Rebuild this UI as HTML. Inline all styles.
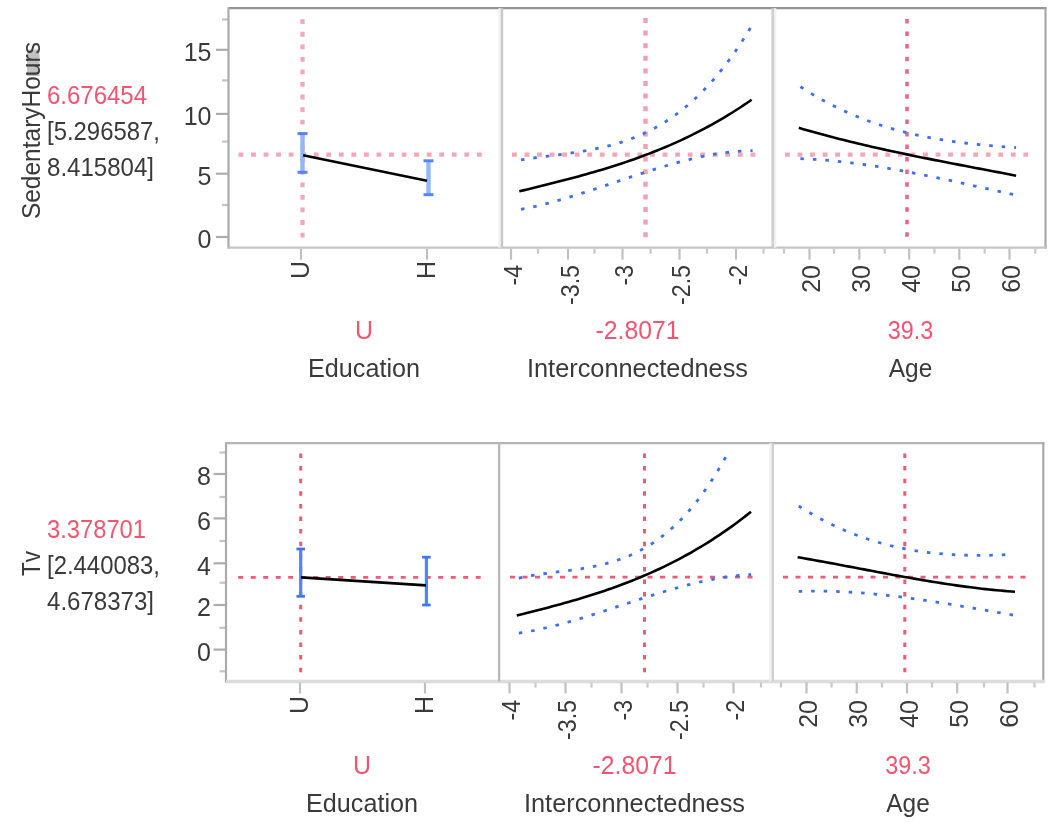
<!DOCTYPE html>
<html><head><meta charset="utf-8"><style>
html,body{margin:0;padding:0;background:#fff;}
svg{display:block;filter:blur(0.45px);}
text{font-family:"Liberation Sans",sans-serif;}
html,body{overflow:hidden;}
</style></head><body>
<svg width="1050" height="825" viewBox="0 0 1050 825" >
<rect width="1050" height="825" fill="#fff"/>
<rect x="27" y="49.5" width="12.5" height="26.5" fill="#c2c2c2"/>
<text transform="translate(40 130.6) rotate(-90)" x="0" y="0" font-size="25" fill="#3a3a3a" text-anchor="middle" textLength="177" lengthAdjust="spacingAndGlyphs">SedentaryHours</text>
<text x="47" y="103.5" font-size="25" fill="#f25570" text-anchor="start" textLength="100" lengthAdjust="spacingAndGlyphs" >6.676454</text>
<text x="47" y="139.7" font-size="25" fill="#3a3a3a" text-anchor="start" textLength="113" lengthAdjust="spacingAndGlyphs" >[5.296587,</text>
<text x="47" y="175.6" font-size="25" fill="#3a3a3a" text-anchor="start" textLength="107" lengthAdjust="spacingAndGlyphs" >8.415804]</text>
<line x1="216.0" y1="237" x2="228.5" y2="237" stroke="#adadad" stroke-width="2.2" />
<text x="211.5" y="248.3" font-size="25" fill="#3a3a3a" text-anchor="end" >0</text>
<line x1="216.0" y1="173.7" x2="228.5" y2="173.7" stroke="#adadad" stroke-width="2.2" />
<text x="211.5" y="185.0" font-size="25" fill="#3a3a3a" text-anchor="end" >5</text>
<line x1="216.0" y1="113.9" x2="228.5" y2="113.9" stroke="#adadad" stroke-width="2.2" />
<text x="211.5" y="125.2" font-size="25" fill="#3a3a3a" text-anchor="end" >10</text>
<line x1="216.0" y1="49.8" x2="228.5" y2="49.8" stroke="#adadad" stroke-width="2.2" />
<text x="211.5" y="61.099999999999994" font-size="25" fill="#3a3a3a" text-anchor="end" >15</text>
<line x1="222.0" y1="205" x2="228.5" y2="205" stroke="#c4c4c4" stroke-width="2.2" />
<line x1="222.0" y1="141.6" x2="228.5" y2="141.6" stroke="#c4c4c4" stroke-width="2.2" />
<line x1="222.0" y1="80.4" x2="228.5" y2="80.4" stroke="#c4c4c4" stroke-width="2.2" />
<line x1="222.0" y1="19.5" x2="228.5" y2="19.5" stroke="#c4c4c4" stroke-width="2.2" />
<line x1="228.5" y1="8.2" x2="1046.5" y2="8.2" stroke="#959595" stroke-width="2.2" />
<line x1="228.5" y1="7.199999999999999" x2="228.5" y2="248.7" stroke="#ababab" stroke-width="2.2" />
<line x1="1045.5" y1="7.199999999999999" x2="1045.5" y2="248.7" stroke="#a8a8a8" stroke-width="2.2" />
<line x1="228.5" y1="247.7" x2="1046.5" y2="247.7" stroke="#c4c4c4" stroke-width="2.2" />
<rect x="498.4" y="8.2" width="2.4" height="239.5" fill="#f0f0f0"/>
<line x1="502" y1="8.2" x2="502" y2="247.7" stroke="#c8c8c8" stroke-width="2.4" />
<rect x="773.9000000000001" y="8.2" width="2.4" height="239.5" fill="#f0f0f0"/>
<line x1="772.7" y1="8.2" x2="772.7" y2="247.7" stroke="#cbcbcb" stroke-width="2.4" />
<line x1="301" y1="248.7" x2="301" y2="259.7" stroke="#c0c0c0" stroke-width="2.2" />
<line x1="427" y1="248.7" x2="427" y2="259.7" stroke="#c0c0c0" stroke-width="2.2" />
<line x1="511" y1="248.7" x2="511" y2="259.7" stroke="#c0c0c0" stroke-width="2.2" />
<line x1="568" y1="248.7" x2="568" y2="259.7" stroke="#c0c0c0" stroke-width="2.2" />
<line x1="622.5" y1="248.7" x2="622.5" y2="259.7" stroke="#c0c0c0" stroke-width="2.2" />
<line x1="679.5" y1="248.7" x2="679.5" y2="259.7" stroke="#c0c0c0" stroke-width="2.2" />
<line x1="736" y1="248.7" x2="736" y2="259.7" stroke="#c0c0c0" stroke-width="2.2" />
<line x1="809.5" y1="248.7" x2="809.5" y2="259.7" stroke="#c0c0c0" stroke-width="2.2" />
<line x1="859.3" y1="248.7" x2="859.3" y2="259.7" stroke="#c0c0c0" stroke-width="2.2" />
<line x1="909.2" y1="248.7" x2="909.2" y2="259.7" stroke="#c0c0c0" stroke-width="2.2" />
<line x1="959.3" y1="248.7" x2="959.3" y2="259.7" stroke="#c0c0c0" stroke-width="2.2" />
<line x1="1009.5" y1="248.7" x2="1009.5" y2="259.7" stroke="#c0c0c0" stroke-width="2.2" />
<line x1="538" y1="248.7" x2="538" y2="253.7" stroke="#c8c8c8" stroke-width="2.2" />
<line x1="594.5" y1="248.7" x2="594.5" y2="253.7" stroke="#c8c8c8" stroke-width="2.2" />
<line x1="650.6" y1="248.7" x2="650.6" y2="253.7" stroke="#c8c8c8" stroke-width="2.2" />
<line x1="707" y1="248.7" x2="707" y2="253.7" stroke="#c8c8c8" stroke-width="2.2" />
<line x1="763.5" y1="248.7" x2="763.5" y2="253.7" stroke="#c8c8c8" stroke-width="2.2" />
<line x1="784" y1="248.7" x2="784" y2="253.7" stroke="#c8c8c8" stroke-width="2.2" />
<line x1="834" y1="248.7" x2="834" y2="253.7" stroke="#c8c8c8" stroke-width="2.2" />
<line x1="884.7" y1="248.7" x2="884.7" y2="253.7" stroke="#c8c8c8" stroke-width="2.2" />
<line x1="934.5" y1="248.7" x2="934.5" y2="253.7" stroke="#c8c8c8" stroke-width="2.2" />
<line x1="984.7" y1="248.7" x2="984.7" y2="253.7" stroke="#c8c8c8" stroke-width="2.2" />
<line x1="1035.3" y1="248.7" x2="1035.3" y2="253.7" stroke="#c8c8c8" stroke-width="2.2" />
<text transform="translate(309.0 261) rotate(-90)" x="0" y="0" font-size="25" fill="#3a3a3a" text-anchor="end">U</text>
<text transform="translate(435.0 261) rotate(-90)" x="0" y="0" font-size="25" fill="#3a3a3a" text-anchor="end">H</text>
<text transform="translate(521.5 265) rotate(-90)" x="0" y="0" font-size="25" fill="#3a3a3a" text-anchor="end" textLength="20.5" lengthAdjust="spacingAndGlyphs">-4</text>
<text transform="translate(578.5 265) rotate(-90)" x="0" y="0" font-size="25" fill="#3a3a3a" text-anchor="end" textLength="40" lengthAdjust="spacingAndGlyphs">-3.5</text>
<text transform="translate(633.0 265) rotate(-90)" x="0" y="0" font-size="25" fill="#3a3a3a" text-anchor="end" textLength="20.5" lengthAdjust="spacingAndGlyphs">-3</text>
<text transform="translate(690.0 265) rotate(-90)" x="0" y="0" font-size="25" fill="#3a3a3a" text-anchor="end" textLength="40" lengthAdjust="spacingAndGlyphs">-2.5</text>
<text transform="translate(746.5 265) rotate(-90)" x="0" y="0" font-size="25" fill="#3a3a3a" text-anchor="end" textLength="20.5" lengthAdjust="spacingAndGlyphs">-2</text>
<text transform="translate(820.0 265) rotate(-90)" x="0" y="0" font-size="25" fill="#3a3a3a" text-anchor="end">20</text>
<text transform="translate(869.8 265) rotate(-90)" x="0" y="0" font-size="25" fill="#3a3a3a" text-anchor="end">30</text>
<text transform="translate(919.7 265) rotate(-90)" x="0" y="0" font-size="25" fill="#3a3a3a" text-anchor="end">40</text>
<text transform="translate(969.8 265) rotate(-90)" x="0" y="0" font-size="25" fill="#3a3a3a" text-anchor="end">50</text>
<text transform="translate(1020.0 265) rotate(-90)" x="0" y="0" font-size="25" fill="#3a3a3a" text-anchor="end">60</text>
<text x="364" y="338.5" font-size="25" fill="#f25570" text-anchor="middle" >U</text>
<text x="364" y="377" font-size="25" fill="#3a3a3a" text-anchor="middle" textLength="112" lengthAdjust="spacingAndGlyphs" >Education</text>
<text x="637.5" y="338.5" font-size="25" fill="#f25570" text-anchor="middle" textLength="84" lengthAdjust="spacingAndGlyphs" >-2.8071</text>
<text x="637.5" y="377" font-size="25" fill="#3a3a3a" text-anchor="middle" textLength="221" lengthAdjust="spacingAndGlyphs" >Interconnectedness</text>
<text x="910.5" y="338.5" font-size="25" fill="#f25570" text-anchor="middle" textLength="45.5" lengthAdjust="spacingAndGlyphs" >39.3</text>
<text x="910.5" y="377" font-size="25" fill="#3a3a3a" text-anchor="middle" textLength="43.5" lengthAdjust="spacingAndGlyphs" >Age</text>
<line x1="302.5" y1="19.3" x2="302.5" y2="238" stroke="#f6a6b6" stroke-width="4.2" stroke-dasharray="4.8 7.75"/><line x1="238.5" y1="154.7" x2="487" y2="154.7" stroke="#f6a6b6" stroke-width="4.2" stroke-dasharray="4.8 7.75"/><line x1="302.5" y1="133.6" x2="302.5" y2="172.3" stroke="#93b7f9" stroke-width="4.4"/><line x1="297.5" y1="133.6" x2="307.5" y2="133.6" stroke="#5585f5" stroke-width="3"/><line x1="297.5" y1="172.3" x2="307.5" y2="172.3" stroke="#5585f5" stroke-width="3"/><line x1="428.5" y1="160.8" x2="428.5" y2="194.7" stroke="#93b7f9" stroke-width="4.4"/><line x1="423.5" y1="160.8" x2="433.5" y2="160.8" stroke="#5585f5" stroke-width="3"/><line x1="423.5" y1="194.7" x2="433.5" y2="194.7" stroke="#5585f5" stroke-width="3"/><line x1="303" y1="155.3" x2="427" y2="180.7" stroke="#000" stroke-width="2.6"/><line x1="512" y1="154.7" x2="758" y2="154.7" stroke="#f6a6b6" stroke-width="4.2" stroke-dasharray="4.8 7.75"/><line x1="645.5" y1="18" x2="645.5" y2="238" stroke="#f5a0b2" stroke-width="4.5" stroke-dasharray="5 7.6"/><path d="M521.00,159.85 L524.90,159.24 L528.80,158.66 L532.71,158.10 L536.61,157.57 L540.51,157.05 L544.41,156.54 L548.31,156.04 L552.21,155.55 L556.12,155.05 L560.02,154.55 L563.92,154.03 L567.82,153.50 L571.72,152.95 L575.62,152.37 L579.53,151.77 L583.43,151.13 L587.33,150.45 L591.23,149.74 L595.13,148.97 L599.03,148.15 L602.94,147.27 L606.84,146.34 L610.74,145.33 L614.64,144.26 L618.54,143.11 L622.44,141.88 L626.35,140.57 L630.25,139.17 L634.15,137.67 L638.05,136.08 L641.95,134.38 L645.85,132.58 L649.76,130.67 L653.66,128.64 L657.56,126.48 L661.46,124.21 L665.36,121.80 L669.26,119.26 L673.17,116.58 L677.07,113.75 L680.97,110.78 L684.87,107.65 L688.77,104.37 L692.67,100.92 L696.58,97.31 L700.48,93.52 L704.38,89.56 L708.28,85.42 L712.18,81.09 L716.08,76.58 L719.99,71.87 L723.89,66.96 L727.79,61.84 L731.69,56.52 L735.59,50.99 L739.49,45.24 L743.40,39.27 L747.30,33.07 L751.20,26.64" fill="none" stroke="#3a6ff2" stroke-width="2.8" stroke-dasharray="3.5 9"/><path d="M521.00,209.35 L524.93,208.59 L528.85,207.78 L532.78,206.93 L536.70,206.03 L540.63,205.09 L544.55,204.12 L548.48,203.10 L552.40,202.06 L556.33,200.97 L560.25,199.86 L564.18,198.72 L568.11,197.56 L572.03,196.36 L575.96,195.15 L579.88,193.92 L583.81,192.66 L587.73,191.39 L591.66,190.11 L595.58,188.81 L599.51,187.51 L603.43,186.19 L607.36,184.87 L611.28,183.55 L615.21,182.23 L619.14,180.90 L623.06,179.58 L626.99,178.26 L630.91,176.94 L634.84,175.64 L638.76,174.34 L642.69,173.06 L646.61,171.80 L650.54,170.55 L654.46,169.31 L658.39,168.10 L662.32,166.91 L666.24,165.75 L670.17,164.61 L674.09,163.51 L678.02,162.43 L681.94,161.39 L685.87,160.38 L689.79,159.41 L693.72,158.47 L697.64,157.58 L701.57,156.74 L705.49,155.93 L709.42,155.18 L713.35,154.47 L717.27,153.82 L721.20,153.22 L725.12,152.68 L729.05,152.19 L732.97,151.76 L736.90,151.40 L740.82,151.10 L744.75,150.87 L748.67,150.70 L752.60,150.60" fill="none" stroke="#3a6ff2" stroke-width="2.8" stroke-dasharray="3.5 9"/><path d="M519.30,191.32 L523.24,190.37 L527.17,189.41 L531.11,188.45 L535.05,187.48 L538.99,186.51 L542.92,185.54 L546.86,184.56 L550.80,183.57 L554.74,182.58 L558.67,181.58 L562.61,180.56 L566.55,179.54 L570.48,178.50 L574.42,177.45 L578.36,176.38 L582.30,175.30 L586.23,174.21 L590.17,173.09 L594.11,171.96 L598.05,170.81 L601.98,169.64 L605.92,168.44 L609.86,167.23 L613.79,165.99 L617.73,164.72 L621.67,163.43 L625.61,162.11 L629.54,160.77 L633.48,159.40 L637.42,157.99 L641.36,156.56 L645.29,155.09 L649.23,153.60 L653.17,152.06 L657.11,150.50 L661.04,148.90 L664.98,147.26 L668.92,145.58 L672.85,143.86 L676.79,142.11 L680.73,140.31 L684.67,138.47 L688.60,136.59 L692.54,134.66 L696.48,132.69 L700.42,130.67 L704.35,128.60 L708.29,126.49 L712.23,124.33 L716.16,122.11 L720.10,119.85 L724.04,117.53 L727.98,115.16 L731.91,112.74 L735.85,110.26 L739.79,107.72 L743.73,105.13 L747.66,102.48 L751.60,99.76" fill="none" stroke="#000" stroke-width="2.6"/><line x1="785" y1="154.7" x2="1028" y2="154.7" stroke="#f6a6b6" stroke-width="4.2" stroke-dasharray="4.8 7.75"/><line x1="907" y1="19" x2="907" y2="238" stroke="#f06680" stroke-width="3.6" stroke-dasharray="4.5 8.05"/><path d="M800.40,86.76 L804.06,89.11 L807.71,91.41 L811.37,93.64 L815.02,95.80 L818.68,97.91 L822.34,99.95 L825.99,101.94 L829.65,103.86 L833.30,105.73 L836.96,107.55 L840.62,109.30 L844.27,111.01 L847.93,112.65 L851.58,114.25 L855.24,115.80 L858.89,117.29 L862.55,118.74 L866.21,120.13 L869.86,121.48 L873.52,122.78 L877.17,124.04 L880.83,125.25 L884.49,126.41 L888.14,127.54 L891.80,128.62 L895.45,129.66 L899.11,130.67 L902.77,131.63 L906.42,132.55 L910.08,133.44 L913.73,134.29 L917.39,135.11 L921.05,135.90 L924.70,136.65 L928.36,137.36 L932.01,138.05 L935.67,138.71 L939.33,139.34 L942.98,139.94 L946.64,140.51 L950.29,141.06 L953.95,141.58 L957.61,142.08 L961.26,142.55 L964.92,143.00 L968.57,143.43 L972.23,143.84 L975.88,144.24 L979.54,144.61 L983.20,144.96 L986.85,145.30 L990.51,145.63 L994.16,145.94 L997.82,146.23 L1001.48,146.52 L1005.13,146.79 L1008.79,147.05 L1012.44,147.30 L1016.10,147.55" fill="none" stroke="#3a6ff2" stroke-width="2.8" stroke-dasharray="3.5 9"/><path d="M800.40,158.72 L804.02,158.85 L807.63,159.02 L811.25,159.20 L814.86,159.42 L818.48,159.65 L822.09,159.92 L825.71,160.20 L829.32,160.51 L832.94,160.84 L836.55,161.20 L840.17,161.57 L843.78,161.97 L847.40,162.38 L851.01,162.82 L854.63,163.28 L858.24,163.75 L861.86,164.24 L865.47,164.76 L869.09,165.28 L872.71,165.83 L876.32,166.39 L879.94,166.97 L883.55,167.56 L887.17,168.17 L890.78,168.79 L894.40,169.42 L898.01,170.07 L901.63,170.73 L905.24,171.41 L908.86,172.09 L912.47,172.79 L916.09,173.49 L919.70,174.21 L923.32,174.93 L926.93,175.67 L930.55,176.41 L934.16,177.16 L937.78,177.92 L941.39,178.68 L945.01,179.45 L948.63,180.23 L952.24,181.01 L955.86,181.79 L959.47,182.58 L963.09,183.38 L966.70,184.18 L970.32,184.97 L973.93,185.78 L977.55,186.58 L981.16,187.38 L984.78,188.19 L988.39,188.99 L992.01,189.80 L995.62,190.60 L999.24,191.40 L1002.85,192.20 L1006.47,192.99 L1010.08,193.79 L1013.70,194.57" fill="none" stroke="#3a6ff2" stroke-width="2.8" stroke-dasharray="3.5 9"/><path d="M798.80,127.83 L802.48,128.91 L806.17,129.97 L809.85,131.02 L813.53,132.06 L817.22,133.08 L820.90,134.09 L824.58,135.08 L828.26,136.06 L831.95,137.03 L835.63,137.98 L839.31,138.92 L843.00,139.85 L846.68,140.77 L850.36,141.68 L854.05,142.58 L857.73,143.46 L861.41,144.34 L865.09,145.20 L868.78,146.05 L872.46,146.90 L876.14,147.74 L879.83,148.56 L883.51,149.38 L887.19,150.19 L890.88,150.99 L894.56,151.79 L898.24,152.57 L901.93,153.35 L905.61,154.13 L909.29,154.89 L912.97,155.65 L916.66,156.41 L920.34,157.16 L924.02,157.90 L927.71,158.64 L931.39,159.37 L935.07,160.10 L938.76,160.83 L942.44,161.55 L946.12,162.27 L949.81,162.98 L953.49,163.69 L957.17,164.40 L960.85,165.11 L964.54,165.82 L968.22,166.52 L971.90,167.22 L975.59,167.92 L979.27,168.63 L982.95,169.33 L986.64,170.03 L990.32,170.73 L994.00,171.43 L997.68,172.13 L1001.37,172.83 L1005.05,173.54 L1008.73,174.25 L1012.42,174.95 L1016.10,175.67" fill="none" stroke="#000" stroke-width="2.6"/>
<text transform="translate(39.5 563.5) rotate(-90)" x="0" y="0" font-size="25" fill="#3a3a3a" text-anchor="middle" textLength="25" lengthAdjust="spacingAndGlyphs">Tv</text>
<text x="47" y="538" font-size="25" fill="#f25570" text-anchor="start" textLength="99" lengthAdjust="spacingAndGlyphs" >3.378701</text>
<text x="47" y="574.2" font-size="25" fill="#3a3a3a" text-anchor="start" textLength="113" lengthAdjust="spacingAndGlyphs" >[2.440083,</text>
<text x="47" y="610.1" font-size="25" fill="#3a3a3a" text-anchor="start" textLength="107" lengthAdjust="spacingAndGlyphs" >4.678373]</text>
<line x1="213.5" y1="649.6" x2="226" y2="649.6" stroke="#adadad" stroke-width="2.2" />
<text x="211" y="660.9" font-size="25" fill="#3a3a3a" text-anchor="end" >0</text>
<line x1="213.5" y1="605" x2="226" y2="605" stroke="#adadad" stroke-width="2.2" />
<text x="211" y="616.3" font-size="25" fill="#3a3a3a" text-anchor="end" >2</text>
<line x1="213.5" y1="563.3" x2="226" y2="563.3" stroke="#adadad" stroke-width="2.2" />
<text x="211" y="574.5999999999999" font-size="25" fill="#3a3a3a" text-anchor="end" >4</text>
<line x1="213.5" y1="518.4" x2="226" y2="518.4" stroke="#adadad" stroke-width="2.2" />
<text x="211" y="529.6999999999999" font-size="25" fill="#3a3a3a" text-anchor="end" >6</text>
<line x1="213.5" y1="474" x2="226" y2="474" stroke="#adadad" stroke-width="2.2" />
<text x="211" y="485.3" font-size="25" fill="#3a3a3a" text-anchor="end" >8</text>
<line x1="219.5" y1="671.3" x2="226" y2="671.3" stroke="#c4c4c4" stroke-width="2.2" />
<line x1="219.5" y1="627.8" x2="226" y2="627.8" stroke="#c4c4c4" stroke-width="2.2" />
<line x1="219.5" y1="582.7" x2="226" y2="582.7" stroke="#c4c4c4" stroke-width="2.2" />
<line x1="219.5" y1="541" x2="226" y2="541" stroke="#c4c4c4" stroke-width="2.2" />
<line x1="219.5" y1="497" x2="226" y2="497" stroke="#c4c4c4" stroke-width="2.2" />
<line x1="219.5" y1="452.5" x2="226" y2="452.5" stroke="#c4c4c4" stroke-width="2.2" />
<line x1="226" y1="443.2" x2="1044.3" y2="443.2" stroke="#b5b5b5" stroke-width="2.2" />
<line x1="226" y1="442.2" x2="226" y2="682.5" stroke="#ababab" stroke-width="2.2" />
<line x1="1043.3" y1="442.2" x2="1043.3" y2="682.5" stroke="#a8a8a8" stroke-width="2.2" />
<line x1="226" y1="681.5" x2="1044.3" y2="681.5" stroke="#dcdcdc" stroke-width="3.6" />
<line x1="499.1" y1="443.2" x2="499.1" y2="681.5" stroke="#b8b8b8" stroke-width="2.4" />
<rect x="769.1999999999999" y="443.2" width="2.4" height="238.3" fill="#f0f0f0"/>
<line x1="772.8" y1="443.2" x2="772.8" y2="681.5" stroke="#d0d0d0" stroke-width="2.4" />
<line x1="300" y1="682.5" x2="300" y2="693.5" stroke="#c0c0c0" stroke-width="2.2" />
<line x1="425" y1="682.5" x2="425" y2="693.5" stroke="#c0c0c0" stroke-width="2.2" />
<line x1="509.5" y1="682.5" x2="509.5" y2="693.5" stroke="#c0c0c0" stroke-width="2.2" />
<line x1="565.5" y1="682.5" x2="565.5" y2="693.5" stroke="#c0c0c0" stroke-width="2.2" />
<line x1="621.5" y1="682.5" x2="621.5" y2="693.5" stroke="#c0c0c0" stroke-width="2.2" />
<line x1="677.5" y1="682.5" x2="677.5" y2="693.5" stroke="#c0c0c0" stroke-width="2.2" />
<line x1="733.5" y1="682.5" x2="733.5" y2="693.5" stroke="#c0c0c0" stroke-width="2.2" />
<line x1="806.5" y1="682.5" x2="806.5" y2="693.5" stroke="#c0c0c0" stroke-width="2.2" />
<line x1="856.75" y1="682.5" x2="856.75" y2="693.5" stroke="#c0c0c0" stroke-width="2.2" />
<line x1="907" y1="682.5" x2="907" y2="693.5" stroke="#c0c0c0" stroke-width="2.2" />
<line x1="957.2" y1="682.5" x2="957.2" y2="693.5" stroke="#c0c0c0" stroke-width="2.2" />
<line x1="1007.5" y1="682.5" x2="1007.5" y2="693.5" stroke="#c0c0c0" stroke-width="2.2" />
<line x1="535.5" y1="682.5" x2="535.5" y2="687.5" stroke="#c8c8c8" stroke-width="2.2" />
<line x1="591.5" y1="682.5" x2="591.5" y2="687.5" stroke="#c8c8c8" stroke-width="2.2" />
<line x1="647.5" y1="682.5" x2="647.5" y2="687.5" stroke="#c8c8c8" stroke-width="2.2" />
<line x1="703.5" y1="682.5" x2="703.5" y2="687.5" stroke="#c8c8c8" stroke-width="2.2" />
<line x1="761" y1="682.5" x2="761" y2="687.5" stroke="#c8c8c8" stroke-width="2.2" />
<line x1="781" y1="682.5" x2="781" y2="687.5" stroke="#c8c8c8" stroke-width="2.2" />
<line x1="831.6" y1="682.5" x2="831.6" y2="687.5" stroke="#c8c8c8" stroke-width="2.2" />
<line x1="882" y1="682.5" x2="882" y2="687.5" stroke="#c8c8c8" stroke-width="2.2" />
<line x1="932" y1="682.5" x2="932" y2="687.5" stroke="#c8c8c8" stroke-width="2.2" />
<line x1="984" y1="682.5" x2="984" y2="687.5" stroke="#c8c8c8" stroke-width="2.2" />
<line x1="1034.5" y1="682.5" x2="1034.5" y2="687.5" stroke="#c8c8c8" stroke-width="2.2" />
<text transform="translate(308.0 696) rotate(-90)" x="0" y="0" font-size="25" fill="#3a3a3a" text-anchor="end">U</text>
<text transform="translate(433.0 696) rotate(-90)" x="0" y="0" font-size="25" fill="#3a3a3a" text-anchor="end">H</text>
<text transform="translate(520.0 700) rotate(-90)" x="0" y="0" font-size="25" fill="#3a3a3a" text-anchor="end" textLength="20.5" lengthAdjust="spacingAndGlyphs">-4</text>
<text transform="translate(576.0 700) rotate(-90)" x="0" y="0" font-size="25" fill="#3a3a3a" text-anchor="end" textLength="40" lengthAdjust="spacingAndGlyphs">-3.5</text>
<text transform="translate(632.0 700) rotate(-90)" x="0" y="0" font-size="25" fill="#3a3a3a" text-anchor="end" textLength="20.5" lengthAdjust="spacingAndGlyphs">-3</text>
<text transform="translate(688.0 700) rotate(-90)" x="0" y="0" font-size="25" fill="#3a3a3a" text-anchor="end" textLength="40" lengthAdjust="spacingAndGlyphs">-2.5</text>
<text transform="translate(744.0 700) rotate(-90)" x="0" y="0" font-size="25" fill="#3a3a3a" text-anchor="end" textLength="20.5" lengthAdjust="spacingAndGlyphs">-2</text>
<text transform="translate(817.0 700) rotate(-90)" x="0" y="0" font-size="25" fill="#3a3a3a" text-anchor="end">20</text>
<text transform="translate(867.25 700) rotate(-90)" x="0" y="0" font-size="25" fill="#3a3a3a" text-anchor="end">30</text>
<text transform="translate(917.5 700) rotate(-90)" x="0" y="0" font-size="25" fill="#3a3a3a" text-anchor="end">40</text>
<text transform="translate(967.7 700) rotate(-90)" x="0" y="0" font-size="25" fill="#3a3a3a" text-anchor="end">50</text>
<text transform="translate(1018.0 700) rotate(-90)" x="0" y="0" font-size="25" fill="#3a3a3a" text-anchor="end">60</text>
<text x="362" y="773.5" font-size="25" fill="#f25570" text-anchor="middle" >U</text>
<text x="362" y="812" font-size="25" fill="#3a3a3a" text-anchor="middle" textLength="112" lengthAdjust="spacingAndGlyphs" >Education</text>
<text x="634.5" y="773.5" font-size="25" fill="#f25570" text-anchor="middle" textLength="84" lengthAdjust="spacingAndGlyphs" >-2.8071</text>
<text x="634.5" y="812" font-size="25" fill="#3a3a3a" text-anchor="middle" textLength="221" lengthAdjust="spacingAndGlyphs" >Interconnectedness</text>
<text x="908" y="773.5" font-size="25" fill="#f25570" text-anchor="middle" textLength="45.5" lengthAdjust="spacingAndGlyphs" >39.3</text>
<text x="908" y="812" font-size="25" fill="#3a3a3a" text-anchor="middle" textLength="43.5" lengthAdjust="spacingAndGlyphs" >Age</text>
<line x1="300.7" y1="453.5" x2="300.7" y2="675" stroke="#f05a74" stroke-width="3" stroke-dasharray="4.5 8.1"/><line x1="238.2" y1="577.3" x2="484" y2="577.3" stroke="#f05a74" stroke-width="2.8" stroke-dasharray="5 7.5"/><line x1="300.7" y1="549" x2="300.7" y2="596.3" stroke="#5085f7" stroke-width="3.2"/><line x1="296.45" y1="549" x2="304.95" y2="549" stroke="#3f75f4" stroke-width="2.8"/><line x1="296.45" y1="596.3" x2="304.95" y2="596.3" stroke="#3f75f4" stroke-width="2.8"/><line x1="426.4" y1="557.2" x2="426.4" y2="605" stroke="#5085f7" stroke-width="3.2"/><line x1="422.15" y1="557.2" x2="430.65" y2="557.2" stroke="#3f75f4" stroke-width="2.8"/><line x1="422.15" y1="605" x2="430.65" y2="605" stroke="#3f75f4" stroke-width="2.8"/><line x1="301" y1="577.4" x2="426" y2="585.4" stroke="#000" stroke-width="2.6"/><line x1="510" y1="577.2" x2="757" y2="577.2" stroke="#f05a74" stroke-width="2.8" stroke-dasharray="5 7.5"/><line x1="644.5" y1="453.5" x2="644.5" y2="675" stroke="#f05a74" stroke-width="3" stroke-dasharray="4.5 8.1"/><clipPath id="cb2"><rect x="500" y="455" width="270" height="225"/></clipPath><path d="M518.80,578.05 L522.32,577.31 L525.83,576.61 L529.35,575.97 L532.87,575.36 L536.38,574.80 L539.90,574.27 L543.42,573.76 L546.94,573.28 L550.45,572.81 L553.97,572.36 L557.49,571.91 L561.00,571.46 L564.52,571.01 L568.04,570.56 L571.55,570.08 L575.07,569.59 L578.59,569.07 L582.11,568.53 L585.62,567.94 L589.14,567.32 L592.66,566.65 L596.17,565.93 L599.69,565.16 L603.21,564.32 L606.72,563.42 L610.24,562.45 L613.76,561.40 L617.27,560.26 L620.79,559.04 L624.31,557.73 L627.83,556.32 L631.34,554.81 L634.86,553.19 L638.38,551.45 L641.89,549.60 L645.41,547.62 L648.93,545.52 L652.44,543.28 L655.96,540.90 L659.48,538.38 L662.99,535.70 L666.51,532.88 L670.03,529.89 L673.55,526.73 L677.06,523.41 L680.58,519.91 L684.10,516.23 L687.61,512.36 L691.13,508.30 L694.65,504.05 L698.16,499.59 L701.68,494.93 L705.20,490.05 L708.72,484.96 L712.23,479.64 L715.75,474.10 L719.27,468.32 L722.78,462.30 L726.30,456.04" fill="none" stroke="#3a6ff2" stroke-width="2.8" stroke-dasharray="3.5 9"/><path d="M518.80,633.12 L522.74,632.50 L526.67,631.82 L530.61,631.10 L534.55,630.32 L538.49,629.50 L542.42,628.64 L546.36,627.74 L550.30,626.79 L554.24,625.81 L558.17,624.79 L562.11,623.74 L566.05,622.66 L569.98,621.55 L573.92,620.41 L577.86,619.25 L581.80,618.06 L585.73,616.86 L589.67,615.63 L593.61,614.39 L597.55,613.13 L601.48,611.86 L605.42,610.58 L609.36,609.29 L613.29,607.99 L617.23,606.69 L621.17,605.39 L625.11,604.09 L629.04,602.78 L632.98,601.49 L636.92,600.20 L640.86,598.91 L644.79,597.64 L648.73,596.38 L652.67,595.13 L656.61,593.90 L660.54,592.68 L664.48,591.49 L668.42,590.32 L672.35,589.17 L676.29,588.06 L680.23,586.96 L684.17,585.90 L688.10,584.88 L692.04,583.88 L695.98,582.93 L699.92,582.01 L703.85,581.14 L707.79,580.30 L711.73,579.52 L715.66,578.78 L719.60,578.08 L723.54,577.44 L727.48,576.86 L731.41,576.33 L735.35,575.85 L739.29,575.44 L743.23,575.09 L747.16,574.80 L751.10,574.57" fill="none" stroke="#3a6ff2" stroke-width="2.8" stroke-dasharray="3.5 9"/><path d="M516.80,615.40 L520.77,614.43 L524.74,613.45 L528.71,612.46 L532.68,611.47 L536.65,610.46 L540.62,609.45 L544.59,608.42 L548.56,607.39 L552.53,606.33 L556.49,605.27 L560.46,604.19 L564.43,603.09 L568.40,601.97 L572.37,600.83 L576.34,599.67 L580.31,598.49 L584.28,597.29 L588.25,596.07 L592.22,594.82 L596.19,593.54 L600.16,592.24 L604.13,590.91 L608.10,589.55 L612.07,588.16 L616.04,586.74 L620.01,585.28 L623.98,583.80 L627.95,582.27 L631.92,580.71 L635.88,579.12 L639.85,577.48 L643.82,575.81 L647.79,574.10 L651.76,572.34 L655.73,570.54 L659.70,568.70 L663.67,566.82 L667.64,564.88 L671.61,562.91 L675.58,560.88 L679.55,558.80 L683.52,556.67 L687.49,554.50 L691.46,552.27 L695.43,549.98 L699.40,547.64 L703.37,545.25 L707.34,542.79 L711.31,540.28 L715.27,537.71 L719.24,535.08 L723.21,532.39 L727.18,529.64 L731.15,526.82 L735.12,523.93 L739.09,520.99 L743.06,517.97 L747.03,514.88 L751.00,511.73" fill="none" stroke="#000" stroke-width="2.6"/><line x1="783" y1="577.2" x2="1028" y2="577.2" stroke="#f05a74" stroke-width="2.8" stroke-dasharray="5 7.5"/><line x1="904.8" y1="453.5" x2="904.8" y2="675" stroke="#f05a74" stroke-width="3" stroke-dasharray="4.5 8.1"/><path d="M798.70,506.00 L802.22,508.23 L805.73,510.40 L809.25,512.50 L812.77,514.54 L816.28,516.52 L819.80,518.44 L823.32,520.31 L826.84,522.11 L830.35,523.86 L833.87,525.55 L837.39,527.19 L840.90,528.77 L844.42,530.29 L847.94,531.76 L851.45,533.18 L854.97,534.55 L858.49,535.86 L862.01,537.13 L865.52,538.34 L869.04,539.51 L872.56,540.63 L876.07,541.70 L879.59,542.72 L883.11,543.70 L886.62,544.63 L890.14,545.51 L893.66,546.36 L897.17,547.16 L900.69,547.92 L904.21,548.63 L907.73,549.31 L911.24,549.94 L914.76,550.54 L918.28,551.10 L921.79,551.62 L925.31,552.10 L928.83,552.54 L932.34,552.95 L935.86,553.33 L939.38,553.67 L942.89,553.98 L946.41,554.26 L949.93,554.50 L953.45,554.71 L956.96,554.90 L960.48,555.05 L964.00,555.17 L967.51,555.27 L971.03,555.34 L974.55,555.38 L978.06,555.40 L981.58,555.39 L985.10,555.36 L988.62,555.30 L992.13,555.22 L995.65,555.12 L999.17,555.00 L1002.68,554.86 L1006.20,554.70" fill="none" stroke="#3a6ff2" stroke-width="2.8" stroke-dasharray="3.5 9"/><path d="M798.70,591.43 L802.33,591.31 L805.96,591.21 L809.60,591.15 L813.23,591.11 L816.86,591.10 L820.49,591.11 L824.13,591.15 L827.76,591.22 L831.39,591.31 L835.02,591.42 L838.65,591.56 L842.29,591.72 L845.92,591.90 L849.55,592.11 L853.18,592.33 L856.82,592.58 L860.45,592.85 L864.08,593.13 L867.71,593.44 L871.34,593.76 L874.98,594.10 L878.61,594.46 L882.24,594.84 L885.87,595.23 L889.51,595.64 L893.14,596.06 L896.77,596.50 L900.40,596.95 L904.03,597.42 L907.67,597.90 L911.30,598.39 L914.93,598.90 L918.56,599.41 L922.19,599.94 L925.83,600.48 L929.46,601.02 L933.09,601.58 L936.72,602.14 L940.36,602.72 L943.99,603.30 L947.62,603.89 L951.25,604.48 L954.88,605.08 L958.52,605.69 L962.15,606.30 L965.78,606.92 L969.41,607.54 L973.05,608.16 L976.68,608.79 L980.31,609.41 L983.94,610.04 L987.57,610.68 L991.21,611.31 L994.84,611.94 L998.47,612.57 L1002.10,613.20 L1005.74,613.83 L1009.37,614.46 L1013.00,615.08" fill="none" stroke="#3a6ff2" stroke-width="2.8" stroke-dasharray="3.5 9"/><path d="M797.60,557.16 L801.28,557.80 L804.97,558.45 L808.65,559.10 L812.34,559.76 L816.02,560.43 L819.71,561.10 L823.39,561.77 L827.08,562.45 L830.76,563.14 L834.45,563.83 L838.13,564.52 L841.82,565.21 L845.50,565.91 L849.19,566.61 L852.87,567.30 L856.56,568.00 L860.24,568.70 L863.93,569.40 L867.61,570.10 L871.29,570.80 L874.98,571.49 L878.66,572.19 L882.35,572.88 L886.03,573.56 L889.72,574.25 L893.40,574.92 L897.09,575.60 L900.77,576.27 L904.46,576.93 L908.14,577.59 L911.83,578.24 L915.51,578.88 L919.20,579.52 L922.88,580.14 L926.57,580.76 L930.25,581.37 L933.94,581.97 L937.62,582.56 L941.31,583.14 L944.99,583.71 L948.67,584.27 L952.36,584.81 L956.04,585.34 L959.73,585.86 L963.41,586.37 L967.10,586.86 L970.78,587.33 L974.47,587.80 L978.15,588.24 L981.84,588.67 L985.52,589.09 L989.21,589.49 L992.89,589.87 L996.58,590.23 L1000.26,590.57 L1003.95,590.90 L1007.63,591.20 L1011.32,591.49 L1015.00,591.75" fill="none" stroke="#000" stroke-width="2.6"/>
</svg></body></html>
